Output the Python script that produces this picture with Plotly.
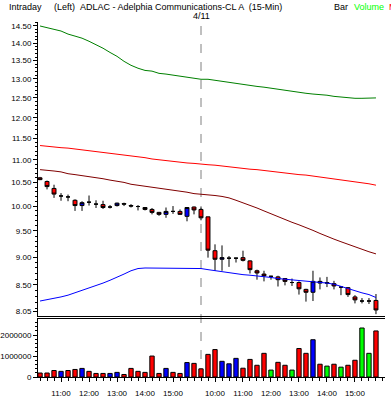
import plotly.graph_objects as go
import numpy as np

# ---------------- data ----------------
bar_index = list(range(49))
opens  = [10.60,10.52,10.37,10.21,10.19,10.12,10.01,10.08,10.04,10.03,9.98,10.01,10.05,10.01,9.99,9.97,9.93,9.87,9.83,9.89,9.89,9.79,9.98,
          9.93,9.78,9.12,8.96,8.98,8.98,8.99,8.93,8.75,8.69,8.65,8.64,8.61,8.54,8.54,8.42,8.37,8.53,8.54,8.52,8.46,8.45,8.29,8.22,8.22,8.23]
highs  = [10.62,10.54,10.45,10.27,10.24,10.14,10.10,10.22,10.12,10.11,10.02,10.07,10.07,10.04,10.02,9.98,9.96,9.88,9.97,10.00,9.93,9.98,9.99,
          9.97,9.78,9.24,9.22,9.02,8.99,9.12,8.94,8.77,8.75,8.66,8.66,8.62,8.61,8.56,8.43,8.75,8.63,8.64,8.57,8.48,8.46,8.32,8.27,8.27,8.34]
lows   = [10.55,10.35,10.17,10.11,10.10,9.90,9.90,10.01,9.96,9.94,9.95,9.99,10.00,9.97,9.91,9.91,9.83,9.80,9.76,9.84,9.82,9.69,9.83,
          9.71,8.99,8.75,8.75,8.82,8.90,8.92,8.70,8.59,8.56,8.59,8.47,8.49,8.48,8.33,8.21,8.22,8.42,8.46,8.42,8.32,8.29,8.18,8.18,8.17,8.00]
closes = [10.56,10.41,10.25,10.21,10.19,10.01,10.07,10.08,10.04,9.97,9.98,10.06,10.04,10.00,9.99,9.93,9.87,9.83,9.89,9.89,9.83,9.97,9.92,
          9.76,9.13,8.96,8.99,8.98,8.98,8.94,8.77,8.71,8.66,8.65,8.59,8.56,8.54,8.43,8.37,8.56,8.56,8.53,8.48,8.46,8.33,8.24,8.22,8.22,8.07]

volume = [0.19,0.19,0.31,0.27,0.31,0.36,0.41,0.27,0.17,0.17,0.17,0.22,0.12,0.41,0.27,0.22,1.00,0.17,0.41,0.22,0.17,0.69,0.65,
          0.39,1.08,1.31,0.75,0.63,0.89,0.42,0.84,0.56,1.13,0.33,0.70,0.56,0.33,1.36,1.13,1.78,0.61,0.52,0.61,0.47,0.56,0.80,2.34,1.13,2.20]
volume = [v * 1e6 for v in volume]
vol_dir = ['d','d','d','u','d','d','u','d','d','d','u','u','d','d','d','d','d','d','u','d','d','u','d',
           'd','d','d','u','u','u','d','d','d','d','n','d','d','n','d','d','u','d','n','d','n','d','d','n','n','d']

ma_green = [14.50,14.44,14.40,14.35,14.26,14.20,14.14,14.05,13.96,13.85,13.73,13.62,13.48,13.37,13.29,13.23,13.21,13.15,13.13,13.10,13.07,13.04,13.02,
            12.99,12.99,12.96,12.93,12.91,12.88,12.86,12.83,12.80,12.78,12.75,12.72,12.70,12.67,12.64,12.62,12.60,12.59,12.57,12.54,12.52,12.50,12.49,12.49,12.50,12.50]
ma_red = [11.33,11.31,11.30,11.28,11.27,11.25,11.24,11.22,11.20,11.18,11.16,11.14,11.12,11.10,11.07,11.05,11.02,11.00,10.98,10.97,10.95,10.93,10.92,
          10.90,10.89,10.88,10.86,10.84,10.83,10.81,10.79,10.78,10.76,10.74,10.73,10.71,10.69,10.67,10.66,10.64,10.62,10.60,10.58,10.56,10.54,10.52,10.50,10.47,10.44]
ma_darkred = [10.78,10.77,10.75,10.73,10.69,10.67,10.65,10.62,10.60,10.58,10.55,10.53,10.50,10.46,10.44,10.42,10.40,10.38,10.36,10.34,10.31,10.29,10.26,
              10.25,10.24,10.22,10.20,10.17,10.12,10.07,10.02,9.96,9.90,9.84,9.78,9.72,9.67,9.62,9.57,9.51,9.45,9.39,9.34,9.29,9.24,9.19,9.14,9.10,9.06]
ma_blue = [8.22,8.24,8.26,8.29,8.32,8.36,8.40,8.44,8.48,8.53,8.58,8.63,8.69,8.75,8.79,8.80,8.80,8.80,8.80,8.80,8.80,8.80,8.79,
           8.79,8.77,8.75,8.73,8.71,8.70,8.68,8.67,8.66,8.64,8.63,8.61,8.60,8.59,8.58,8.57,8.56,8.55,8.53,8.51,8.47,8.43,8.40,8.36,8.33,8.28]

price_ticks = [14.50,14.00,13.50,13.00,12.50,12.00,11.50,11.00,10.50,10.00,9.50,9.00,8.50,8.05]
vol_ticks = [0, 1000000, 2000000]
time_tick_pos = [3, 7, 11, 15, 19, 25, 29, 33, 37, 41, 45]
time_tick_text = ["11:00","12:00","13:00","14:00","15:00","10:00","11:00","12:00","13:00","14:00","15:00"]
day_break_index = 23
day_break_label = "4/11"

# ---------------- geometry helpers ----------------
W, H = 391, 398
ML, MR, MT, MB = 38, 6, 22, 21
PW, PH = W - ML - MR, H - MT - MB

def px(x):
    return (x - ML) / PW

def py(y):
    return (H - MB - y) / PH

FONT = "Liberation Sans, Arial, sans-serif"
dir_color = {'d': '#FF0000', 'u': '#0000FF', 'n': '#00FF00'}

fig = go.Figure()

for vals, col in [(ma_green, '#008000'), (ma_red, '#FF0000'), (ma_darkred, '#800000'), (ma_blue, '#0000FF')]:
    fig.add_trace(go.Scatter(x=bar_index, y=vals, mode='lines', line=dict(color=col, width=1),
                             xaxis='x', yaxis='y', hoverinfo='skip', showlegend=False))

fig.add_trace(go.Candlestick(
    x=bar_index, open=opens, high=highs, low=lows, close=closes,
    increasing=dict(line=dict(color='black', width=1), fillcolor='#0000FF'),
    decreasing=dict(line=dict(color='black', width=1), fillcolor='#FF0000'),
    whiskerwidth=0, xaxis='x', yaxis='y', showlegend=False))

fig.add_trace(go.Bar(
    x=bar_index, y=volume, width=0.62,
    marker=dict(color=[dir_color[d] for d in vol_dir], line=dict(color='black', width=1)),
    xaxis='x2', yaxis='y2', showlegend=False))

lo_log, hi_log = np.log10(7.97), np.log10(14.62)
xr = [-0.29, 49.29]

price_bottom_px = 316
vol_top_px = 319

fig.update_layout(
    template='none',
    width=W, height=H, margin=dict(l=ML, r=MR, t=MT, b=MB, autoexpand=False),
    paper_bgcolor='white', plot_bgcolor='white',
    font=dict(family=FONT, size=8, color='black'),
    boxgap=0.2,
    xaxis=dict(domain=[0, 1], range=xr, anchor='y', showticklabels=False, ticks='', automargin=False,
               showline=True, linecolor='black', linewidth=1, showgrid=False, zeroline=False,
               rangeslider=dict(visible=False)),
    yaxis=dict(domain=[py(price_bottom_px), 1], type='log', range=[lo_log, hi_log], anchor='x', automargin=False,
               tickvals=price_ticks, ticktext=[f"{v:.2f}" for v in price_ticks],
               ticks='outside', ticklen=4, tickcolor='black', showline=True, linecolor='black', linewidth=1,
               showgrid=False, zeroline=False,
               minor=dict(tickvals=list(np.round(np.arange(8.1, 14.7, 0.1), 2)), ticks='outside', ticklen=2,
                          tickcolor='black', showgrid=False)),
    xaxis2=dict(domain=[0, 1], range=xr, anchor='y2', matches='x', automargin=False,
                tickvals=time_tick_pos, ticktext=time_tick_text, ticks='outside', ticklen=4, tickcolor='black',
                ticklabelstandoff=4,
                showline=True, linecolor='black', linewidth=1, mirror=True, showgrid=False, zeroline=False,
                minor=dict(dtick=1, tick0=0, ticks='outside', ticklen=3, tickcolor='black', showgrid=False)),
    yaxis2=dict(domain=[0, py(vol_top_px)], range=[0, 2.77e6], anchor='x2', automargin=False,
                tickvals=vol_ticks, ticktext=[str(v) for v in vol_ticks],
                ticks='outside', ticklen=4, tickcolor='black', showline=True, linecolor='black', linewidth=1,
                showgrid=False, zeroline=False,
                minor=dict(dtick=200000, ticks='outside', ticklen=2, tickcolor='black', showgrid=False)),
    shapes=[dict(type='line', xref='x', yref='paper', x0=day_break_index, x1=day_break_index,
                 y0=0, y1=1, line=dict(color='#808080', width=1, dash='dash'), layer='below')],
)

ann = [
    ("Intraday", 7, 7, 'black'),
    ("(Left)", 52, 7, 'black'),
    ("ADLAC - Adelphia Communications-CL A  (15-Min)", 78, 7, 'black'),
    ("Bar", 332, 7, 'black'),
    ("Volume", 352, 7, '#00FF00'),
    ("M", 387, 7, '#FF0000'),
]
for txt, x, y, c in ann:
    fig.add_annotation(text=txt, xref='paper', yref='paper', x=px(x), y=py(y), xanchor='left', yanchor='middle',
                       showarrow=False, font=dict(size=9, color=c, family=FONT))
fig.add_annotation(text=day_break_label, xref='x', yref='paper', x=day_break_index, y=py(16), xanchor='center',
                   yanchor='middle', showarrow=False, font=dict(size=9, family=FONT))

fig.write_html("out.html", config={'displayModeBar': False, 'staticPlot': True},
               post_script="document.body.style.margin='0';document.body.style.overflow='hidden';")
